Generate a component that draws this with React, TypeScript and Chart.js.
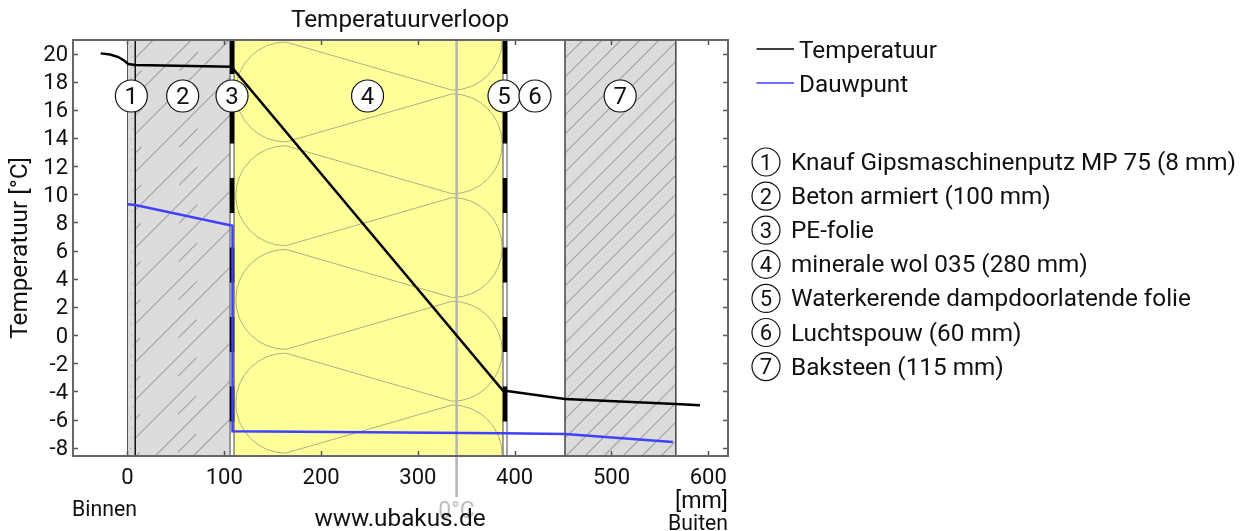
import React, { useEffect, useRef } from "react";
import { Chart, registerables } from "chart.js";

Chart.register(...registerables);

const FONT = "Roboto";

const xTickValues = [0, 100, 200, 300, 400, 500, 600];
const yTickValues = [-8, -6, -4, -2, 0, 2, 4, 6, 8, 10, 12, 14, 16, 18, 20];

const temperatureX = [-27.7, -18, -9.5, -3.6, 0.8, 8, 108, 110, 388, 392, 452, 566.5, 591.4];
const temperatureY = [20.01, 19.93, 19.75, 19.5, 19.25, 19.18, 19.06, 18.85, -3.95, -3.97, -4.54, -4.9, -4.99];

const dewPointX = [0, 8, 108.5, 108.5, 388, 452, 563.5];
const dewPointY = [9.29, 9.24, 7.77, -6.84, -6.98, -7.03, -7.6];

const zeroCrossingMm = 340;

const layerNumbers = ["1", "2", "3", "4", "5", "6", "7"];
const layerLabelMm = [4, 57, 108, 248, 389, 421, 509];
const layerNames = [
  "Knauf Gipsmaschinenputz MP 75 (8 mm)",
  "Beton armiert (100 mm)",
  "PE-folie",
  "minerale wol 035 (280 mm)",
  "Waterkerende dampdoorlatende folie",
  "Luchtspouw (60 mm)",
  "Baksteen (115 mm)",
];

const App = () => {
  const ref = useRef<HTMLCanvasElement>(null);

  useEffect(() => {
    const text = (
      c: CanvasRenderingContext2D,
      s: string,
      x: number,
      y: number,
      size: number,
      color = "#111",
      align: CanvasTextAlign = "left"
    ) => {
      c.font = `${size}px ${FONT}`;
      c.fillStyle = color;
      c.textAlign = align;
      c.textBaseline = "middle";
      c.fillText(s, x, y);
    };

    const circled = (c: CanvasRenderingContext2D, s: string, x: number, y: number, r: number, size: number) => {
      c.beginPath();
      c.arc(x, y, r, 0, Math.PI * 2);
      c.fillStyle = "#fff";
      c.fill();
      c.lineWidth = 1.2;
      c.strokeStyle = "#111";
      c.stroke();
      text(c, s, x, y + 2, size, "#111", "center");
    };

    const hatch = (
      c: CanvasRenderingContext2D,
      l: number,
      t: number,
      w: number,
      h: number,
      pitch: number,
      dashedEvery: boolean
    ) => {
      c.save();
      c.beginPath();
      c.rect(l, t, w, h);
      c.clip();
      c.strokeStyle = "#a0a0a0";
      c.lineWidth = 1.1;
      let i = 0;
      for (let off = l - h - 20; off < l + w + 20; off += pitch) {
        c.setLineDash(dashedEvery && i % 2 === 1 ? [26, 54] : []);
        c.lineDashOffset = dashedEvery ? -(i * 13) % 80 : 0;
        c.beginPath();
        c.moveTo(off, t + h);
        c.lineTo(off + h, t);
        c.stroke();
        i++;
      }
      c.setLineDash([]);
      c.restore();
    };

    const foil = (c: CanvasRenderingContext2D, cx: number, t: number, b: number) => {
      c.fillStyle = "#fff";
      c.fillRect(cx - 2, t, 4, b - t);
      c.strokeStyle = "#444";
      c.lineWidth = 1;
      c.strokeRect(cx - 2, t, 4, b - t);
      c.fillStyle = "#000";
      for (let y = t - 1; y < b; y += 69.5) {
        c.fillRect(cx - 2.2, y, 4.4, Math.min(35, b - y));
      }
    };

    const background = {
      id: "background",
      beforeDraw(chart: any) {
        // Roboto digits sit a little lower in the reference than the tick mark
        chart.scales.y.getLabelItems().forEach((it: any) => {
          it.options.translation = [it.options.translation[0], it.options.translation[1] + 2];
        });
      },
      beforeDatasetsDraw(chart: any) {
        const c: CanvasRenderingContext2D = chart.ctx;
        const { x } = chart.scales;
        const { top, bottom } = chart.chartArea;
        const h = bottom - top;
        const px = (v: number) => x.getPixelForValue(v);
        c.save();

        // layer 1 + 2
        c.fillStyle = "#dcdcdc";
        c.fillRect(px(0), top, px(108) - px(0), h);
        hatch(c, px(8), top, px(108) - px(8), h, 19, true);
        c.fillStyle = "#999";
        for (let i = 0; i < 40; i++) {
          c.fillRect(px(0) + 3 + (i % 3), top + 6 + i * 10.3, 1, 1);
        }
        c.strokeStyle = "#555";
        c.lineWidth = 1;
        c.beginPath();
        c.moveTo(px(0), top);
        c.lineTo(px(0), bottom);
        c.stroke();
        c.strokeStyle = "#111";
        c.lineWidth = 1.5;
        c.beginPath();
        c.moveTo(px(8), top);
        c.lineTo(px(8), bottom);
        c.stroke();

        // layer 4 mineral wool
        const wl = px(110);
        const wr = px(387.6);
        c.fillStyle = "#ffff99";
        c.fillRect(wl, top, wr - wl, h);
        c.save();
        c.beginPath();
        c.rect(wl, top, wr - wl, h);
        c.clip();
        c.strokeStyle = "#b0ae80";
        c.lineWidth = 1;
        const pitch = 103.7;
        const lobe = 50;
        const lx = px(163.5);
        const rx = px(335.5);
        for (let i = -1; i < 5; i++) {
          const lc = top + 52 + i * pitch;
          const rc = lc + pitch / 2;
          c.beginPath();
          c.arc(lx, lc, lobe, Math.PI / 2, (Math.PI * 3) / 2);
          c.stroke();
          c.beginPath();
          c.arc(rx, rc, lobe, -Math.PI / 2, Math.PI / 2);
          c.stroke();
          c.beginPath();
          c.moveTo(lx, lc - lobe);
          c.lineTo(rx, rc - pitch + lobe);
          c.moveTo(lx, lc + lobe);
          c.lineTo(rx, rc - lobe);
          c.stroke();
        }
        c.restore();

        // layer 3 and 5 foils
        foil(c, px(108), top, bottom);
        foil(c, px(390), top, bottom);

        // layer 7 brick
        const bl = px(452);
        const br = px(566.5);
        c.fillStyle = "#dcdcdc";
        c.fillRect(bl, top, br - bl, h);
        hatch(c, bl, top, br - bl, h, 19, false);
        c.strokeStyle = "#444";
        c.lineWidth = 1.5;
        c.strokeRect(bl, top, br - bl, h);

        // 0 degree line
        c.strokeStyle = "#b4b4b4";
        c.lineWidth = 2.5;
        c.beginPath();
        c.moveTo(px(zeroCrossingMm), top);
        c.lineTo(px(zeroCrossingMm), 497);
        c.stroke();
        c.restore();
      },
      afterDatasetsDraw(chart: any) {
        const c: CanvasRenderingContext2D = chart.ctx;
        const { x, y } = chart.scales;
        const { left, right, top, bottom } = chart.chartArea;
        const px = (v: number) => x.getPixelForValue(v);
        c.save();

        // frame and inner ticks
        c.strokeStyle = "#555";
        c.lineWidth = 1.5;
        c.beginPath();
        xTickValues.forEach((v) => {
          const p = Math.round(px(v)) + 0.5;
          c.moveTo(p, top);
          c.lineTo(p, top + 5);
          c.moveTo(p, bottom);
          c.lineTo(p, bottom - 5);
        });
        yTickValues.forEach((v) => {
          const p = Math.round(y.getPixelForValue(v)) + 0.5;
          c.moveTo(left, p);
          c.lineTo(left + 5, p);
          c.moveTo(right, p);
          c.lineTo(right - 5, p);
        });
        c.stroke();
        c.strokeStyle = "#666";
        c.lineWidth = 2;
        c.strokeRect(left, top, right - left, bottom - top);

        // layer bubbles
        layerNumbers.forEach((n, i) => circled(c, n, px(layerLabelMm[i]), 96, 16, 24));

        // free texts
        text(c, "Temperatuurverloop", 400, 21, 24.3, "#111", "center");
        text(c, "0°C", px(zeroCrossingMm), 512, 23, "#bdbdbd", "center");
        text(c, "www.ubakus.de", 400, 520, 24.3, "#111", "center");
        text(c, "Binnen", 72, 510.5, 21.3);
        text(c, "[mm]", 728, 502, 23.2, "#111", "right");
        text(c, "Buiten", 728, 525, 21.2, "#111", "right");

        // legend
        c.lineWidth = 1.5;
        [["Temperatuur", "#000000", 49, 52], ["Dauwpunt", "#4040ff", 83, 86]].forEach(([s, col, ly, ty]: any) => {
          c.strokeStyle = col;
          c.beginPath();
          c.moveTo(756.5, ly);
          c.lineTo(794, ly);
          c.stroke();
          text(c, s, 799, ty, 24.3);
        });
        layerNames.forEach((s, i) => {
          const ly = 162 + i * 34.1;
          circled(c, layerNumbers[i], 766, ly, 14, 22);
          text(c, s, 791, ly + 2, 24.3);
        });
        c.restore();
      },
    };

    const chart = new Chart(ref.current!, {
      type: "line",
      data: {
        datasets: [
          {
            label: "Temperatuur",
            data: temperatureX.map((v, i) => ({ x: v, y: temperatureY[i] })),
            borderColor: "#000000",
            borderWidth: 2.5,
            pointRadius: 0,
            tension: 0,
          },
          {
            label: "Dauwpunt",
            data: dewPointX.map((v, i) => ({ x: v, y: dewPointY[i] })),
            borderColor: "#4040ff",
            borderWidth: 2.5,
            pointRadius: 0,
            tension: 0,
          },
        ],
      },
      options: {
        animation: false,
        responsive: false,
        layout: { padding: { top: 40, right: 513, left: 0, bottom: 0 } },
        plugins: {
          legend: { display: false },
          title: { display: false },
          tooltip: { enabled: false },
        },
        scales: {
          x: {
            type: "linear",
            min: -56.3,
            max: 620.4,
            grid: { display: false, drawTicks: false },
            border: { display: false },
            afterBuildTicks: (s: any) => {
              s.ticks = xTickValues.map((value) => ({ value }));
            },
            afterFit: (s: any) => {
              s.height = 75;
            },
            ticks: {
              padding: 9,
              color: "#111",
              maxRotation: 0,
              autoSkip: false,
              font: { family: FONT, size: 22 },
            },
          },
          y: {
            type: "linear",
            min: -8.59,
            max: 20.96,
            grid: { display: false, drawTicks: false },
            border: { display: false },
            afterBuildTicks: (s: any) => {
              s.ticks = yTickValues.map((value) => ({ value }));
            },
            afterFit: (s: any) => {
              s.width = 73;
            },
            title: {
              display: true,
              text: "Temperatuur [°C]",
              color: "#111",
              font: { family: FONT, size: 24.3 },
              padding: { top: 6, bottom: 0 },
            },
            ticks: {
              padding: 5,
              color: "#111",
              autoSkip: false,
              font: { family: FONT, size: 22 },
            },
          },
        },
      },
      plugins: [background],
    } as any);
    return () => chart.destroy();
  }, []);

  return (
    <canvas
      ref={ref}
      width={1241}
      height={531}
      style={{ position: "fixed", left: 0, top: 0, display: "block", width: 1241, height: 531 }}
    />
  );
};

export default App;
